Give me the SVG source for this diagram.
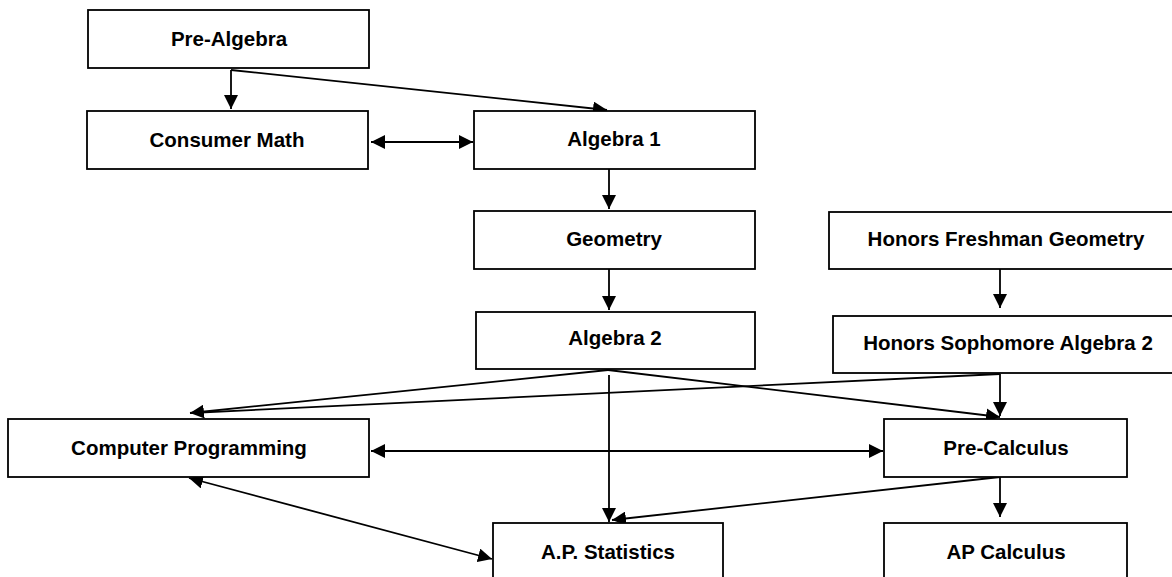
<svg xmlns="http://www.w3.org/2000/svg" width="1172" height="577" viewBox="0 0 1172 577">
<style>
.box{fill:#fff;stroke:#000;stroke-width:1.8}
.lbl{font-family:"Liberation Sans",Arial,sans-serif;font-weight:bold;font-size:20.5px;fill:#000;text-anchor:middle}
.c{fill:none;stroke:#000;stroke-width:1.8}
</style>
<defs>
<marker id="ah" markerUnits="userSpaceOnUse" markerWidth="15" markerHeight="14" refX="14" refY="7" orient="auto-start-reverse" viewBox="0 0 15 14">
<path d="M0,0 L14,7 L0,14 z" fill="#000"/>
</marker>
</defs>
<rect width="1172" height="577" fill="#fff"/>
<g id="connectors">
<path class="c" d="M231,70 V109" marker-end="url(#ah)"/>
<path class="c" d="M231,70 L607,110" marker-end="url(#ah)"/>
<path class="c" d="M371,142 H473" marker-start="url(#ah)" marker-end="url(#ah)"/>
<path class="c" d="M609,169 V209" marker-end="url(#ah)"/>
<path class="c" d="M609,269 V310" marker-end="url(#ah)"/>
<path class="c" d="M1000,269 V308" marker-end="url(#ah)"/>
<path class="c" d="M608,370 L190,413" marker-end="url(#ah)"/>
<path class="c" d="M1000,374 L190,413"/>
<path class="c" d="M1000,374 V416" marker-end="url(#ah)"/>
<path class="c" d="M608,370 L1000,417" marker-end="url(#ah)"/>
<path class="c" d="M609,375 V522" marker-end="url(#ah)"/>
<path class="c" d="M1000,477 L612,520" marker-end="url(#ah)"/>
<path class="c" d="M1000,477 V517" marker-end="url(#ah)"/>
<path class="c" d="M371,451 H883" marker-start="url(#ah)" marker-end="url(#ah)"/>
<path class="c" d="M189,478 L492,559" marker-start="url(#ah)" marker-end="url(#ah)"/>
</g>
<g id="pre-algebra"><rect class="box" x="88" y="10" width="281" height="58"/><text class="lbl" x="229" y="46">Pre-Algebra</text></g>
<g id="consumer-math"><rect class="box" x="87" y="111" width="281" height="58"/><text class="lbl" x="227" y="147">Consumer Math</text></g>
<g id="algebra-1"><rect class="box" x="474" y="111" width="281" height="58"/><text class="lbl" x="614" y="146">Algebra 1</text></g>
<g id="geometry"><rect class="box" x="474" y="211" width="281" height="58"/><text class="lbl" x="614" y="246">Geometry</text></g>
<g id="algebra-2"><rect class="box" x="476" y="312" width="279" height="57"/><text class="lbl" x="615" y="345">Algebra 2</text></g>
<g id="honors-freshman-geometry"><rect class="box" x="829" y="212" width="360" height="57"/><text class="lbl" x="1006" y="246">Honors Freshman Geometry</text></g>
<g id="honors-sophomore-algebra-2"><rect class="box" x="833" y="316" width="360" height="57"/><text class="lbl" x="1008" y="350">Honors Sophomore Algebra 2</text></g>
<g id="computer-programming"><rect class="box" x="8" y="419" width="361" height="58"/><text class="lbl" x="189" y="455">Computer Programming</text></g>
<g id="pre-calculus"><rect class="box" x="884" y="419" width="243" height="58"/><text class="lbl" x="1006" y="455">Pre-Calculus</text></g>
<g id="ap-statistics"><rect class="box" x="493" y="523" width="230" height="80"/><text class="lbl" x="608" y="559">A.P. Statistics</text></g>
<g id="ap-calculus"><rect class="box" x="884" y="523" width="243" height="80"/><text class="lbl" x="1006" y="559">AP Calculus</text></g>
</svg>
